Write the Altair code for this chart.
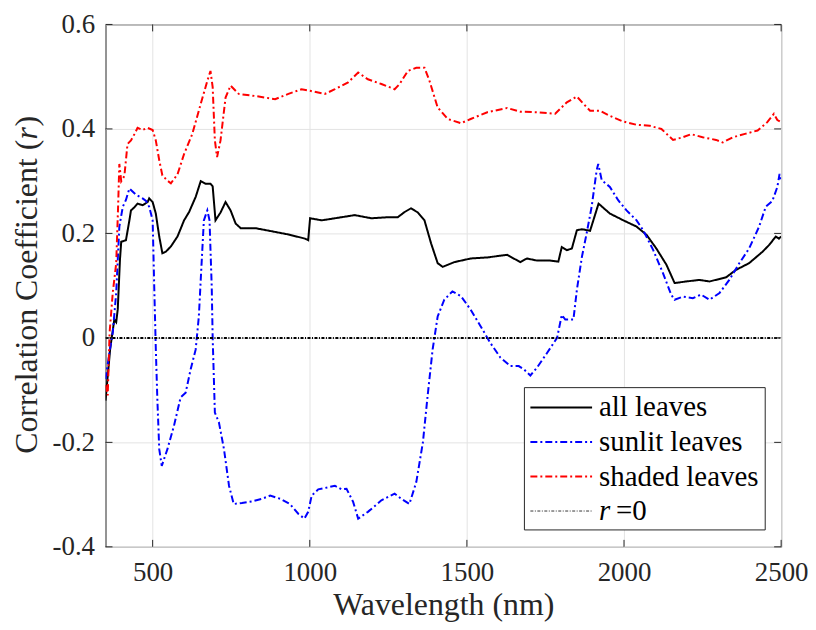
import altair as alt
import pandas as pd

# ---------------- data ----------------
all_wl = [350, 365, 378, 384, 389, 396, 400, 415, 426, 431, 442, 452, 468, 484, 489, 500,
          510, 521, 531, 542, 558, 579, 600, 616, 637, 653, 669, 684, 691, 700, 716, 732,
          748, 764, 780, 827, 880, 932, 985, 995, 1001, 1038, 1080, 1122, 1143, 1196, 1249,
          1280, 1302, 1322, 1344, 1365, 1386, 1407, 1423, 1460, 1512, 1565, 1628, 1670, 1691,
          1723, 1765, 1791, 1802, 1818, 1834, 1850, 1866, 1892, 1919, 1955, 1998, 2040, 2072,
          2103, 2135, 2161, 2198, 2240, 2272, 2325, 2356, 2398, 2441, 2462, 2483, 2493, 2500]
all_r = [-0.12, -0.02, 0.035, 0.03, 0.055, 0.15, 0.184, 0.187, 0.225, 0.244, 0.25, 0.257, 0.254,
         0.26, 0.267, 0.26, 0.238, 0.194, 0.162, 0.165, 0.175, 0.194, 0.225, 0.241, 0.27, 0.30,
         0.295, 0.295, 0.29, 0.225, 0.24, 0.26, 0.244, 0.219, 0.21, 0.21, 0.204, 0.198, 0.19,
         0.187, 0.229, 0.225, 0.229, 0.233, 0.235, 0.229, 0.231, 0.231, 0.241, 0.248, 0.24,
         0.225, 0.181, 0.143, 0.136, 0.145, 0.152, 0.154, 0.159, 0.145, 0.152, 0.148, 0.148,
         0.146, 0.174, 0.168, 0.171, 0.206, 0.208, 0.205, 0.257, 0.238, 0.225, 0.213, 0.197,
         0.171, 0.14, 0.105, 0.108, 0.111, 0.108, 0.116, 0.13, 0.143, 0.165, 0.178, 0.194,
         0.19, 0.194]

sun_wl = [350, 362, 373, 384, 394, 405, 415, 426, 447, 468, 479, 489, 500, 505, 510, 515, 521,
          529, 547, 568, 589, 605, 621, 637, 647, 653, 663, 674, 681, 688, 691, 698, 711, 727,
          743, 758, 784, 816, 848, 874, 906, 937, 964, 983, 995, 1006, 1027, 1059, 1080, 1101,
          1117, 1138, 1154, 1185, 1228, 1270, 1291, 1317, 1339, 1360, 1375, 1391, 1407, 1428,
          1454, 1481, 1512, 1544, 1575, 1607, 1639, 1665, 1681, 1702, 1723, 1755, 1787, 1802,
          1813, 1839, 1850, 1866, 1881, 1897, 1913, 1918, 1929, 1955, 1982, 2008, 2040, 2061,
          2093, 2124, 2150, 2161, 2187, 2219, 2245, 2272, 2304, 2335, 2367, 2398, 2430, 2451,
          2472, 2488, 2495, 2500]
sun_r = [-0.079, -0.03, 0.01, 0.086, 0.213, 0.251, 0.264, 0.286, 0.274, 0.267, 0.262, 0.251,
         0.225, 0.099, -0.02, -0.118, -0.213, -0.245, -0.213, -0.168, -0.114, -0.105, -0.06,
         -0.022, 0.041, 0.111, 0.225, 0.244, 0.225, 0.098, 0.0, -0.143, -0.162, -0.213, -0.283,
         -0.318, -0.316, -0.313, -0.308, -0.302, -0.308, -0.318, -0.337, -0.346, -0.333, -0.302,
         -0.29, -0.286, -0.283, -0.29, -0.289, -0.314, -0.346, -0.333, -0.311, -0.298, -0.308,
         -0.318, -0.276, -0.2, -0.111, -0.022, 0.041, 0.073, 0.089, 0.08, 0.054, 0.022, -0.01,
         -0.038, -0.054, -0.054, -0.06, -0.072, -0.057, -0.029, 0.0, 0.044, 0.035, 0.035, 0.092,
         0.155, 0.2, 0.251, 0.321, 0.333, 0.302, 0.289, 0.263, 0.244, 0.225, 0.206, 0.168,
         0.124, 0.083, 0.073, 0.079, 0.076, 0.083, 0.073, 0.086, 0.111, 0.143, 0.171, 0.213,
         0.251, 0.262, 0.289, 0.314, 0.30]

shd_wl = [350, 357, 363, 373, 384, 390, 394, 400, 410, 420, 431, 442, 452, 468, 484, 500, 510,
          521, 531, 547, 558, 579, 600, 626, 653, 674, 684, 691, 698, 705, 716, 732, 748, 774,
          827, 890, 932, 974, 1001, 1048, 1080, 1122, 1154, 1185, 1228, 1270, 1286, 1312, 1339,
          1365, 1381, 1407, 1439, 1481, 1512, 1565, 1628, 1670, 1723, 1781, 1818, 1850, 1871,
          1892, 1923, 1955, 1998, 2040, 2082, 2119, 2156, 2187, 2214, 2250, 2293, 2314, 2346,
          2388, 2425, 2456, 2477, 2488, 2500]
shd_r = [-0.09, -0.11, 0.01, 0.086, 0.143, 0.25, 0.333, 0.30, 0.31, 0.371, 0.378, 0.39, 0.402,
         0.398, 0.402, 0.398, 0.378, 0.34, 0.311, 0.301, 0.296, 0.313, 0.352, 0.39, 0.448, 0.492,
         0.511, 0.48, 0.378, 0.346, 0.378, 0.46, 0.483, 0.467, 0.463, 0.457, 0.467, 0.476, 0.473,
         0.467, 0.476, 0.489, 0.508, 0.495, 0.486, 0.476, 0.486, 0.511, 0.517, 0.517, 0.492,
         0.441, 0.419, 0.411, 0.419, 0.432, 0.44, 0.433, 0.432, 0.429, 0.451, 0.462, 0.448,
         0.435, 0.435, 0.425, 0.414, 0.408, 0.406, 0.40, 0.379, 0.384, 0.39, 0.384, 0.379,
         0.374, 0.384, 0.391, 0.397, 0.413, 0.429, 0.417, 0.413]

zero_wl = [350, 2500]
zero_r = [0.0, 0.0]

series_names = ["all leaves", "sunlit leaves", "shaded leaves", "r =0"]
series_colors = ["#000000", "#0000ff", "#ff0000", "#000000"]
series_dash = [[1, 0], [7, 3, 2, 3], [7, 3, 2, 3], [3, 1.5, 1, 1.5]]
series_width = [2, 2, 2, 0.8]

x_ticks = [500, 1000, 1500, 2000, 2500]
y_ticks = [-0.4, -0.2, 0.0, 0.2, 0.4, 0.6]

# ---------------- build table ----------------
frames = []
for name, wl, r in [(series_names[0], all_wl, all_r),
                    (series_names[1], sun_wl, sun_r),
                    (series_names[2], shd_wl, shd_r),
                    (series_names[3], zero_wl, zero_r)]:
    frames.append(pd.DataFrame({"wl": wl, "r": r, "series": name}))
df = pd.concat(frames, ignore_index=True)

xt = pd.DataFrame({"wl": x_ticks})
yt = pd.DataFrame({"r": y_ticks})
one = pd.DataFrame({"k": [0]})

W, H = 679, 525
FONT = "Liberation Serif"
AX = "#262626"

xscale = alt.Scale(domain=[350, 2500], nice=False, zero=False)
yscale = alt.Scale(domain=[-0.4, 0.6], nice=False, zero=False)

x_axis = alt.Axis(values=x_ticks, format="d", title="Wavelength (nm)", titleFont=FONT,
                  titleFontSize=32, titleFontWeight="normal", titleColor="#262626", titleY=68,
                  titleBaseline="alphabetic",
                  labelFont=FONT, labelFontSize=27, labelColor="#262626", labelPadding=13,
                  labelFlush=False, labelOverlap=False, labelBound=False,
                  tickSize=0, domain=False, grid=True, gridColor="#e3e3e3", gridWidth=1)
y_axis = alt.Axis(values=y_ticks,
                  labelExpr="datum.value == 0 ? '0' : (datum.value < 0 ? '-' : '') + format(abs(datum.value), '.1f')",
                  labelFont=FONT, labelFontSize=27, labelColor="#262626", labelPadding=11,
                  labelFlush=False, labelOverlap=False, labelBound=False,
                  tickSize=0, domain=False, grid=True, gridColor="#e3e3e3", gridWidth=1)

color_scale = alt.Scale(domain=series_names, range=series_colors)
dash_scale = alt.Scale(domain=series_names, range=series_dash)
width_scale = alt.Scale(domain=series_names, range=series_width)

lines = alt.Chart(df).mark_line(clip=True).encode(
    x=alt.X("wl:Q", scale=xscale, axis=x_axis),
    y=alt.Y("r:Q", scale=yscale, axis=y_axis, title=None),
    color=alt.Color("series:N", scale=color_scale, legend=None),
    strokeDash=alt.StrokeDash("series:N", scale=dash_scale, legend=None),
    strokeWidth=alt.StrokeWidth("series:N", scale=width_scale, legend=None),
    order=alt.Order("wl:Q"),
)

tick_len = 7
bot_ticks = alt.Chart(xt).mark_rule(color=AX, strokeWidth=1).encode(
    x=alt.X("wl:Q", scale=xscale), y=alt.value(H), y2=alt.value(H - tick_len))
top_ticks = alt.Chart(xt).mark_rule(color=AX, strokeWidth=1).encode(
    x=alt.X("wl:Q", scale=xscale), y=alt.value(0), y2=alt.value(tick_len))
left_ticks = alt.Chart(yt).mark_rule(color=AX, strokeWidth=1).encode(
    y=alt.Y("r:Q", scale=yscale), x=alt.value(0), x2=alt.value(tick_len))
right_ticks = alt.Chart(yt).mark_rule(color=AX, strokeWidth=1).encode(
    y=alt.Y("r:Q", scale=yscale), x=alt.value(W), x2=alt.value(W - tick_len))

# y-axis title with italic r, as text
t_base = dict(angle=270, align="left", baseline="alphabetic", font=FONT, fontSize=32, color="#262626")
ty1 = alt.Chart(one).mark_text(**t_base).encode(
    x=alt.value(-69), y=alt.value(431.5), text=alt.value("Correlation Coefficient ("))
ty2 = alt.Chart(one).mark_text(fontStyle="italic", **t_base).encode(
    x=alt.value(-69), y=alt.value(115.5), text=alt.value("r"))
ty3 = alt.Chart(one).mark_text(**t_base).encode(
    x=alt.value(-69), y=alt.value(102.5), text=alt.value(")"))

# legend box (drawn inside the plot, lower right)
LX0, LX1, LY0, LY1 = 421, 663, 365, 508
rows = [385, 419.7, 454.4, 489]
SX0, SX1, TX = 427, 489, 496
legend_layers = [alt.Chart(one).mark_rect(fill="white", stroke=AX, strokeWidth=1).encode(
    x=alt.value(LX0), x2=alt.value(LX1), y=alt.value(LY0), y2=alt.value(LY1))]
for i, name in enumerate(series_names):
    legend_layers.append(alt.Chart(one).mark_rule(
        color=series_colors[i], strokeDash=series_dash[i], strokeWidth=series_width[i]).encode(
        x=alt.value(SX0), x2=alt.value(SX1), y=alt.value(rows[i])))
lt = dict(align="left", baseline="middle", font=FONT, fontSize=29, color="#000000")
for i, name in enumerate(series_names[:3]):
    legend_layers.append(alt.Chart(one).mark_text(**lt).encode(
        x=alt.value(TX), y=alt.value(rows[i]), text=alt.value(name)))
legend_layers.append(alt.Chart(one).mark_text(fontStyle="italic", **lt).encode(
    x=alt.value(TX), y=alt.value(rows[3]), text=alt.value("r")))
legend_layers.append(alt.Chart(one).mark_text(**lt).encode(
    x=alt.value(TX + 17), y=alt.value(rows[3]), text=alt.value("=0")))

chart = alt.layer(lines, bot_ticks, top_ticks, left_ticks, right_ticks, ty1, ty2, ty3,
                  *legend_layers).properties(
    width=W, height=H,
    autosize=alt.AutoSizeParams(type="none"),
    padding={"left": 98, "top": 15, "right": 27, "bottom": 74},
    background="white",
).configure_view(stroke=AX, strokeWidth=1)

chart.save("out.html", embed_options={"renderer": "svg", "actions": False})
